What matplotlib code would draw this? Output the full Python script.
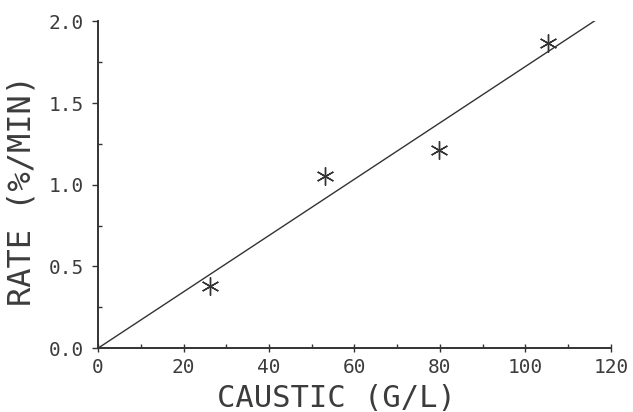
import matplotlib
matplotlib.use("Agg")
import matplotlib.pyplot as plt
from matplotlib.ticker import MultipleLocator

# measured rate vs caustic concentration
caustic = [26.1, 53.0, 79.8, 105.4]
rate = [0.38, 1.055, 1.215, 1.87]

# straight-line fit through the origin
fit_x = [0.0, 116.3]
fit_y = [0.0, 2.005]

ink = "#333333"
text_ink = "#3c3c3c"
plt.rcParams["font.family"] = ["DejaVu Sans Mono"]

fig = plt.figure(figsize=(6.33, 4.12), dpi=100)
ax = fig.add_axes([0.155, 0.155, 0.81, 0.793])

ax.plot(fit_x, fit_y, color=ink, lw=1.0)
ax.plot(caustic, rate, linestyle="none", marker=(6, 2, 0), markersize=13,
        markeredgewidth=1.0, color=ink, markeredgecolor=ink)

ax.set_xlim(0, 120)
ax.set_ylim(0, 2.0)
ax.xaxis.set_major_locator(MultipleLocator(20))
ax.xaxis.set_minor_locator(MultipleLocator(10))
ax.yaxis.set_major_locator(MultipleLocator(0.5))
ax.yaxis.set_minor_locator(MultipleLocator(0.25))
ax.yaxis.set_major_formatter(plt.FormatStrFormatter("%.1f"))

for s in ["top", "right"]:
    ax.spines[s].set_visible(False)
for s in ["left", "bottom"]:
    ax.spines[s].set_color(ink)
    ax.spines[s].set_linewidth(1.4)

ax.tick_params(which="major", direction="inout", length=6, width=1.0,
               color=ink, labelcolor=text_ink, labelsize=14, pad=4)
ax.tick_params(axis="y", which="major", direction="out", length=4, pad=6)
ax.tick_params(which="minor", direction="in", length=3, width=1.0, color=ink)

ax.set_xlabel("CAUSTIC (G/L)", fontsize=22, color=text_ink)
ax.set_ylabel("RATE (%/MIN)", fontsize=23, color=text_ink)
ax.xaxis.set_label_coords(0.465, -0.11)
ax.yaxis.set_label_coords(-0.118, 0.483)

fig.savefig("out.png", dpi=100, facecolor="white")
